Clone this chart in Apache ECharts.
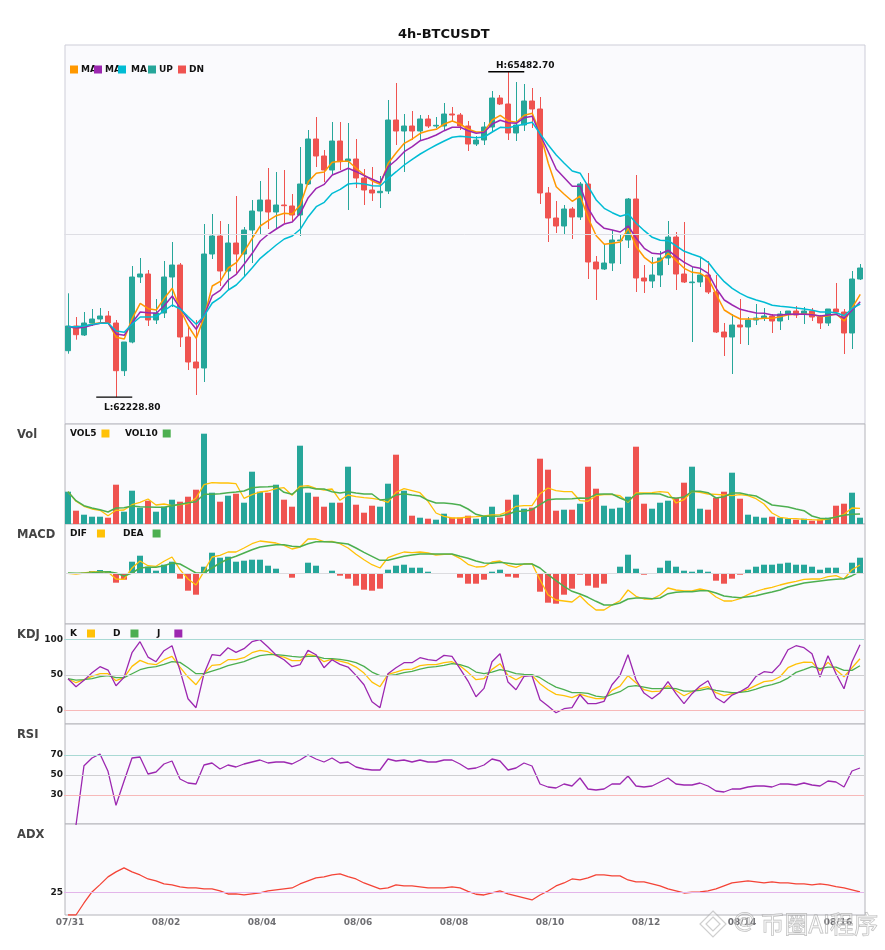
<!DOCTYPE html>
<html><head><meta charset="utf-8">
<style>html,body{margin:0;padding:0;background:#fff}#c{width:885px;height:950px}</style>
<script src="https://cdn.jsdelivr.net/npm/echarts@6/dist/echarts.min.js"></script>
</head><body><div id="c"></div>
<script>
const days=['07/31','08/01','08/02','08/03','08/04','08/05','08/06','08/07','08/08','08/09','08/10','08/11','08/12','08/13','08/14','08/15','08/16'];
const opens=[62693,62940,62850,62970,63010,63040,62970,62493,62780,63430,
63460,63000,63070,63430,63550,62830,62580,62520,63660,63840,
63490,63770,63660,63900,64090,64200,64080,64150,64140,64050,
64360,64810,64640,64500,64790,64590,64610,64420,64300,64273,
64290,65000,64890,64940,64890,65010,64940,64940,65060,65050,
64940,64760,64800,64930,65220,65160,64870,64950,65190,65110,
64270,64020,63940,64110,64030,64360,63580,63510,63570,63793,
63800,64210,63420,63390,63450,63620,63830,63460,63373,63380,
63450,63280,62880,62830,62950,62930,63000,63020,63040,62990,
63060,63090,63060,63090,63030,62970,63110,63080,62870,63410];
const closes=[62940,62853,62970,63010,63040,62970,62493,62780,63430,63460,
63000,63070,63430,63550,62830,62580,62520,63660,63840,63490,
63770,63660,63900,64090,64200,64080,64150,64143,64050,64360,
64810,64640,64500,64790,64583,64610,64420,64300,64270,64287,
65000,64890,64940,64890,65010,64940,64947,65060,65050,64940,
64760,64800,64930,65220,65160,64870,64950,65190,65110,64270,
64020,63940,64110,64030,64360,63580,63510,63570,63800,63800,
64210,63420,63390,63450,63620,63830,63460,63380,63380,63450,
63280,62880,62830,62950,62930,63000,63020,63040,62990,63060,
63090,63050,63090,63030,62970,63110,63080,62870,63410,63520];
const lows=[62663,62803,62840,62940,62970,62950,62228.8,62440,62767,63370,
62940,62960,63020,63130,62730,62500,62250,62380,63610,63340,
63300,63470,63430,63570,63850,63910,63920,63967,63980,63840,
64350,64530,64380,64450,64500,64100,64320,64150,64190,64120,
64260,64750,64480,64800,64790,64920,64920,64900,64980,64900,
64690,64740,64750,64890,65150,64800,64790,64890,64920,64160,
63780,63870,63850,63810,64000,63410,63200,63500,63490,63560,
63720,63280,63270,63320,63330,63550,63300,63370,62780,63330,
63260,62870,62640,62460,62760,62750,62950,62990,62870,62900,
63000,63020,62960,62990,62910,62940,63050,62660,62710,63400];
const highs=[63267,63030,63080,63110,63120,63090,63000,62780,63540,63620,
63500,63210,63590,63780,63570,62930,63000,63960,64060,63990,
63960,64240,63930,64200,64390,64520,64480,64500,64260,64730,
64900,65030,64700,64980,64980,64970,64810,64510,64530,64440,
65200,65370,65060,65090,65050,65050,65030,65170,65130,65070,
64990,64840,64980,65290,65250,65482.7,65380,65360,65320,65230,
64330,64190,64150,64130,64380,64470,63640,63760,63900,63860,
64220,64450,63550,63630,63690,63990,63880,63980,63530,63620,
63590,63450,62970,63060,63210,63030,63160,63120,63060,63090,
63090,63140,63130,63120,63050,63110,63370,63110,63490,63560];
const ma5=[62933,62920,62933,62960,62973,62973,62827,62810,63017,63167,
63113,63100,63217,63317,63107,62940,62817,63033,63340,63387,
63520,63573,63687,63817,63940,63993,64043,64067,64060,64150,
64383,64467,64480,64577,64587,64587,64517,64450,64390,64357,
64567,64673,64767,64810,64867,64893,64907,64960,64990,64960,
64907,64880,64883,65000,65047,64990,64977,65047,65067,64867,
64567,64333,64257,64187,64240,64017,63843,63757,63767,63780,
63917,63733,63627,63567,63590,63667,63593,63517,63477,63467,
63417,63257,63100,63050,63010,63010,63010,63017,63017,63033,
63053,63057,63057,63057,63033,63043,63060,62990,63123,63257];
const ma10=[62933,62920,62927,62950,62967,62967,62860,62847,62973,63080,
63073,63067,63143,63240,63117,63007,62907,63050,63243,63297,
63400,63457,63560,63667,63790,63857,63910,63960,63980,64067,
64223,64317,64357,64450,64483,64517,64483,64443,64407,64373,
64533,64600,64683,64733,64793,64817,64850,64893,64927,64927,
64893,64867,64877,64960,64997,64973,64967,65023,65037,64850,
64683,64507,64423,64337,64337,64117,63983,63917,63900,63880,
63940,63817,63717,63667,63660,63697,63633,63577,63533,63517,
63467,63317,63200,63150,63107,63087,63070,63067,63050,63050,
63057,63060,63057,63053,63040,63050,63057,63017,63100,63183];
const ma20=[62933,62933,62940,62957,62967,62967,62890,62877,62963,63030,
63030,63033,63093,63150,63110,63033,62957,63043,63170,63223,
63300,63350,63433,63523,63617,63683,63750,63810,63840,63907,
64033,64133,64177,64267,64307,64360,64367,64360,64343,64340,
64417,64483,64550,64607,64660,64707,64750,64790,64827,64837,
64830,64823,64830,64880,64927,64923,64940,64960,64977,64860,
64750,64650,64567,64490,64467,64333,64200,64117,64073,64037,
64060,63967,63893,63827,63797,63793,63740,63687,63657,63630,
63577,63473,63383,63317,63267,63227,63200,63177,63147,63137,
63130,63120,63110,63097,63080,63080,63073,63043,63117,63160];
const volume=[32.3,13.3,9.3,7.3,7.3,6.3,39.3,12.3,33.3,16.3,
23.3,12.3,17.3,24.3,22.3,27.3,34.3,90.3,31.3,22.3,
28.3,30.3,21.3,52.3,32.3,31.3,39.3,24.3,17.3,78.3,
31.3,27.3,17.3,21.3,21.3,57.3,19.3,11.3,18.3,17.3,
40.3,69.3,33.3,8.3,6.3,5.3,4.3,10.3,6.3,6.3,
8.3,5.3,7.3,17.3,6.3,24.3,29.3,15.3,16.3,65.3,
54.3,13.3,14.3,14.3,20.3,57.3,35.3,18.3,15.3,16.3,
27.3,77.3,20.3,15.3,21.3,23.3,26.3,41.3,57.3,15.3,
14.3,26.3,32.3,51.3,25.3,9.3,7.3,6.3,7.3,6.3,
5.3,4.3,5.3,3.3,4.3,6.3,18.3,20.3,31.3,6.3];
const vol5=[32.3,22.7,17.7,15,13.7,8.3,13.7,14,19.3,21.7,
25,19,20,18.3,19.3,20.3,26,39.3,41.3,41,
41,40.3,25.7,29.3,32,33,35.3,36.3,28.7,37.7,
38.3,35.7,34,35,23.7,29,27.3,26.3,25.7,24.3,
21.7,31.7,35.3,33.3,31.3,22.7,11,7.7,6,6,
7,7.3,8,9,9.3,12.3,17.7,18.3,18.3,30.3,
36,33.3,32.3,32.3,23.3,22.7,28.3,29.3,29.3,28.3,
21.7,31,31,31.3,32.3,31.7,21,24.3,32.7,31.7,
30,29.7,29,28.3,29.3,28.3,25.3,20,11,6.7,
5.7,5.3,4.7,4.3,4,5,7,9.7,16,15.7];
const vol10=[32.3,23.3,18.3,16,14.3,12,16,16.3,18,17.3,
17,16.7,16.7,18.3,19.7,21.3,22.3,29.7,29.7,30.3,
31.3,32,33,36.3,37,37.3,37.7,31.7,29.7,36,
36.7,35,35,32.3,31,32.3,31,30,30,24,
24.7,29,30.3,29,28,23.7,21,21,20.3,19,
15,9.7,7.7,7.7,8,9.7,12.7,12.7,14.3,19.3,
24.3,25,25,25.3,26,25.7,29.7,30,30,26,
22.7,29.7,30.3,30.3,30,27,25.7,27,32.7,32.7,
31.3,26,27.3,31,31,29.3,28,23.7,19,18,
17,15,13.3,8,5.7,5.3,7,8.7,9.7,10];
const macdHist=[0,0,0.3,2,3,2,-9.7,-6.7,11.3,17.3,
6.3,2.3,8.3,11.3,-5.7,-17.7,-21.7,6.3,20.3,15.3,
16.3,11.3,12.3,13.3,13.3,7.3,4.3,0,-4.7,-1,
10.3,7.3,0,2.3,-2.7,-5.7,-12.7,-16.7,-17.7,-15.7,
3.3,7.3,8.3,5.3,5.3,1.3,-0.7,-0.7,-0.7,-4.7,
-10.7,-10.7,-6.7,1.3,3.3,-3.7,-4.7,0,0,-18.7,
-29.7,-30.7,-21.7,-15.7,-1.7,-12.7,-14.7,-10.7,-0.3,6.3,
18.3,4.3,-1.7,-0.7,5.3,12.3,6.3,2.3,1.3,3.3,
1.3,-7.7,-10.7,-5.7,-1.7,3.3,6.3,8.3,8.3,9.3,
10.3,8.3,8.3,6.3,3.3,5.3,5.3,0,10.3,15.3];
const dif=[-0.3,-1,0,1,1.3,1,-6,-6.3,5,12,
7.3,6.7,11.7,16,3.3,-6,-12,1.7,16,17.7,
21,21,25,29.3,32,31,30,27.7,24,26,
34,34,31.3,31.7,29.3,25,18.7,13.3,8.3,5,
15.3,18.3,21,20.3,21,20,18,18.7,18.7,14.7,
8.7,6,6.3,11,12,7.7,5.7,9,9.3,-6.7,
-21.7,-27,-28,-29,-22.7,-30.7,-37,-37,-32,-27.7,
-17,-23.3,-26,-26,-22,-15,-17,-18,-18,-16,
-17.7,-24,-28,-28,-25.7,-21.7,-18.3,-16,-14.3,-12,
-10,-8.3,-6.3,-6,-6,-3.7,-2.7,-6,3.3,8];
const dea=[0,-0.3,-0.3,0.3,1,1.3,0,-3,0,5,
5.7,5.7,7.3,10,9,4.7,0,0,5,10,
14,16.7,20,23.3,26,27.3,28.3,28.3,26.7,26.3,
29.3,31.3,31.3,31,30,29,25,20.7,16.7,12.7,
12.7,14.7,16.7,18,19,19,19,19,19,16.7,
14.7,12,10,9.7,10.7,9.7,8.7,9,9,5,
-1.7,-7.7,-13.3,-18.3,-21,-24.3,-28.3,-32,-32,-30,
-26,-25,-25,-25.7,-25,-20.7,-19.3,-18.7,-18.7,-17.7,
-17.7,-20,-23,-24,-24.7,-23.7,-22.7,-20.7,-19,-17,
-14,-12,-10,-9,-8,-7,-6.3,-5.7,-2.7,1.3];
const kdjK=[44.8,39.2,43.4,48.1,51.8,51.8,42,46.2,62.1,70.5,
65.8,64.4,71.4,76.1,61.1,47.1,36.4,51.8,63.5,64.4,
71.4,71.4,74.2,81.2,84.5,82.6,77,75.1,70,70,
78.9,76.5,68.6,72.3,69.5,66.7,61.1,52.7,40.1,33.6,
50.9,54.1,57.4,58.3,63,64.4,64.4,67.2,68.6,63,
53.7,43.4,44.8,57.9,65.8,49.5,43.4,49.5,49.5,37.8,
29.4,22.9,21,18.2,23.3,19.6,16.8,16.8,28.5,34.5,
49,39.2,29.4,26.6,27.5,35,28,21,26.6,30.8,
33.6,25.2,21,23.8,26.1,29.9,35.5,40.6,42,47.6,
60.2,65.3,68.1,67.7,56,67.7,57.4,47.6,60.2,72.8];
const kdjD=[44.8,42.9,43.4,44.8,47.6,49,46.2,46.2,51.8,57.4,
60.2,61.6,64.9,68.6,67.7,60.2,51.8,51.8,55.5,58.8,
63,65.8,68.6,73.3,77,78.4,78.4,77.5,76.1,75.1,
76.1,76.1,73.3,72.8,71.9,70,67.2,62.1,54.1,49,
49,50.4,53.2,55.1,58.3,60.7,61.6,63.5,65.8,64.4,
61.1,54.1,51.8,54.1,57.4,55.5,51.8,50.9,50.4,46.2,
39.2,33.1,29.4,25.2,25.2,24.3,20.5,19.1,22.9,26.6,
33.6,35,33.1,30.8,30.8,31.7,30.8,27.5,27.5,28.5,
30.8,28.5,26.6,25.2,25.7,27.1,30.3,34.1,36.4,40.1,
45.7,53.7,57.4,61.6,58.8,61.1,61.1,56.5,56.5,63];
const kdjJ=[44.8,33.6,42.5,53.2,61.6,56.9,35,46.7,81.2,96.6,
75.1,68.6,84,91,56.5,16.8,4.2,51.8,78.4,77,
88.2,81.7,86.8,96.6,99.4,89.1,77.9,71.4,61.6,64.4,
84.5,78.4,60.2,71.4,64.9,61.1,49.5,36.4,12.6,4.2,
51.8,60.2,67.2,67.2,74.2,71.4,70,77.5,76.1,58.8,
41.5,19.6,31.3,68.6,79.8,40.1,29.4,48.1,49,15.4,
6.5,-2.8,2.8,4.2,22.4,9.8,9.8,13.1,36.4,49.5,
78.4,43.4,24.7,16.8,25.2,40.6,23.8,9.8,23.8,34.5,
42,18.2,11.2,21.9,26.6,33.1,48.1,54.6,53.2,64.9,
85.4,91,88.2,79.8,47.1,77,51.8,30.8,68.6,92.4];
const rsi=['-',0,59.3,67,71,53.7,19.7,43.7,67,68,
51,53,61,64,46,42,41,60,62,56,
60,58,61,63,65,62,63,63,61,65,
70,66,63,67,62,63,58,56,55,55,
66,64,65,63,65,63,63,65,65,61,
56,57,60,66,64,55,57,62,59,41,
38,37,41,39,47,36,35,36,41,41,
49,39,38,39,43,47,41,40,40,42,
39,34,33,36,36,38,39,39,38,41,
41,40,42,40,39,44,43,38,54,57];
const adx=[0,0,13.2,25.3,33.4,41.9,47.4,51.8,47.4,44,
39.6,37.4,34.1,33,30.8,29.7,29.7,28.6,28.6,26.4,
23.1,23.1,22,23.1,24.2,26.4,27.5,28.6,29.7,34.1,
37.4,40.7,41.9,44,45.2,42.2,39.6,35.2,31.9,28.6,
29.7,33,31.9,31.9,30.8,29.7,29.7,29.7,30.8,29.7,
26,22.8,22,24.2,26.4,23.1,20.9,18.7,16.5,22,
26.4,31.9,35.2,39.6,38.5,40.7,44,44,43,43,
38.5,36.3,36.3,34.1,31.9,28.6,26.4,24.2,25,25.3,
26.4,28.6,31.9,35.2,36.3,37.4,36.3,35.2,36.3,35.2,
35.2,34.1,34.1,33,34.1,33,31.2,29.7,27.5,25.3];
const priceMid=63855, kdjLevels=[100,50,0], rsiLevels=[70,50,30], adxLevels=[25], macdZero=0;

const FONT='"DejaVu Sans"';
const UP='#26a69a',DN='#ef5350',C_MA5='#ff9800',C_MA10='#9c27b0',C_MA20='#00bcd4',YEL='#ffc107',GRN='#4caf50';
const categories=[];days.forEach(d=>{for(let h=0;h<6;h++)categories.push(d)});categories.length=opens.length;
const upData=opens.map((o,i)=>closes[i]>=o?[o,closes[i],lows[i],highs[i]]:['-','-','-','-']);
const dnData=opens.map((o,i)=>closes[i]<o?[o,closes[i],lows[i],highs[i]]:['-','-','-','-']);

const frameTops=[45,424,524,624,724,824],heights=[379,100,100,100,100,91];
const dataTops=[45,424,524,625,725,824];
const grid=dataTops.map((t,i)=>({left:i==0?64.25:64,right:i==0?20.75:21,top:t,height:heights[i],show:false}))
 .concat(frameTops.map((t,i)=>({left:65,right:20,top:t,height:heights[i],show:true,z:0,backgroundColor:'#fafafd',borderColor:i==0?'#cdcdd8':'#b4b4ba',borderWidth:1})));
const xAxis=dataTops.map((t,i)=>({type:'category',gridIndex:i,data:categories,show:i==5,boundaryGap:true,
  axisLine:{show:false},axisTick:{show:false},splitLine:{show:false},
  axisLabel:{show:i==5,interval:11,margin:3,padding:[0,0,0,4],fontSize:9,fontWeight:'bold',color:'#6e6e72',fontFamily:FONT}}))
 .concat(frameTops.map((t,i)=>({type:'category',gridIndex:i+6,data:[],show:false})));
function yA(i,min,max,labels){const o={type:'value',gridIndex:i,min,max,show:!!labels,axisLine:{show:false},axisTick:{show:false},splitLine:{show:false}};
  if(labels)o.axisLabel={customValues:labels,margin:1,fontSize:9,fontWeight:'bold',color:'#1a1a1a',fontFamily:FONT};return o;}
const yAxis=[yA(0,61960,65750),yA(1,0,100),yA(2,-51,49),yA(3,-20,120,kdjLevels),yA(4,0,100,rsiLevels),yA(5,0,100,adxLevels)]
 .concat(frameTops.map((t,i)=>({type:'value',gridIndex:i+6,show:false})));
function ml(items){return {silent:true,symbol:'none',animation:false,label:{show:false},data:items.map(([v,c])=>({yAxis:v,lineStyle:{color:c,width:1,type:'solid'}}))};}
function line(name,data,color,g,w,extra){return Object.assign({type:'line',name,data,xAxisIndex:g,yAxisIndex:g,showSymbol:false,symbol:'none',smooth:false,
  lineStyle:{color,width:w||1.3},itemStyle:{color},emphasis:{disabled:true}},extra||{});}
const markStyle=(v,off)=>({show:true,formatter:v,position:'top',offset:off,fontSize:9,fontWeight:'bold',color:'#111',fontFamily:FONT});
const series=[
 {type:'candlestick',name:'UP',data:upData,xAxisIndex:0,yAxisIndex:0,barWidth:5.5,itemStyle:{color:UP,color0:UP,borderColor:UP,borderColor0:UP,borderWidth:1},
  markLine:ml([[priceMid,'#dedee4']])},
 {type:'candlestick',name:'DN',data:dnData,xAxisIndex:0,yAxisIndex:0,barWidth:5.5,itemStyle:{color:DN,color0:DN,borderColor:DN,borderColor0:DN,borderWidth:1},
  markPoint:{symbol:'rect',symbolSize:[36,1.4],symbolOffset:[-2,0],itemStyle:{color:'#000'},silent:true,animation:false,data:[
   {coord:[55,65482.7],label:markStyle('H:65482.70',[19,4])},
   {coord:[6,62228.8],label:markStyle('L:62228.80',[18,21])}]}},
 line('MA5',ma5,C_MA5,0,1.5),line('MA10',ma10,C_MA10,0,1.5),line('MA20',ma20,C_MA20,0,1.5),
 {type:'bar',name:'Volume',xAxisIndex:1,yAxisIndex:1,barWidth:6,data:volume.map((v,i)=>({value:v,itemStyle:{color:closes[i]>=opens[i]?UP:DN}}))},
 line('VOL5',vol5,YEL,1),line('VOL10',vol10,GRN,1,1.5),
 {type:'bar',name:'MACD',xAxisIndex:2,yAxisIndex:2,barWidth:6,data:macdHist.map(v=>({value:v,itemStyle:{color:v>=0?UP:DN}})),markLine:ml([[macdZero,'#dcdce0']])},
 line('DIF',dif,YEL,2),line('DEA',dea,GRN,2,1.5),
 line('K',kdjK,YEL,3,1.3,{markLine:ml([[kdjLevels[0],'#a9d9d4'],[kdjLevels[1],'#cfcfd2'],[kdjLevels[2],'#f7b9b9']])}),
 line('D',kdjD,GRN,3),line('J',kdjJ,C_MA10,3),
 line('RSI',rsi,C_MA10,4,1.3,{markLine:ml([[rsiLevels[0],'#a9d9d4'],[rsiLevels[1],'#cfcfd2'],[rsiLevels[2],'#f7b9b9']])}),
 line('ADX',adx,'#f44336',5,1.3,{markLine:ml([[adxLevels[0],'#e3b5ea']])})
];
function lg(name,left,top,align,pad,fmt){return {show:true,data:[name],left,top,orient:'horizontal',align,padding:0,itemWidth:8,itemHeight:8,icon:'rect',selectedMode:false,
  lineStyle:{width:0},itemStyle:{borderWidth:0},
  formatter:fmt||'{name}',textStyle:{fontSize:9,fontWeight:'bold',color:'#111',fontFamily:FONT,padding:pad}};}
const MA=()=>'MA';
const legend=[
 lg('MA5',70,65,'left',[0,0,0,-2],MA),lg('MA10',94,65,'left',[0,0,0,-2],MA),lg('MA20',118,65,'left',[0,0,0,0],MA),
 lg('UP',148,65,'left',[0,0,0,-2]),lg('DN',178,65,'left',[0,0,0,-2]),
 lg('VOL5',70,429,'right',[0,0,0,0]),lg('VOL10',125,429,'right',[0,0,0,0]),
 lg('DIF',70,529,'right',[0,5,0,0]),lg('DEA',123,529,'right',[0,4,0,0]),
 lg('K',70,629,'right',[0,5,0,0]),lg('D',113,629,'right',[0,5,0,0]),lg('J',157,629,'right',[0,9,0,0])
];
const panelTitle=(text,top)=>({text,left:17,top,padding:0,textStyle:{fontSize:11.5,fontWeight:'bold',color:'#444',fontFamily:FONT}});
const title=[{text:'4h-BTCUSDT',left:398,top:28,padding:0,textStyle:{fontSize:13,fontWeight:'bold',color:'#111',fontFamily:FONT}},
 panelTitle('Vol',429.5),panelTitle('MACD',529.5),panelTitle('KDJ',629.5),panelTitle('RSI',729.5),panelTitle('ADX',829.5)];
const wmStyle={fill:'rgba(255,255,255,0.4)',stroke:'rgba(130,130,130,0.55)',lineWidth:0.9};
const graphic=[
 {type:'text',left:760,top:911,z:100,silent:true,style:Object.assign({text:'币圈AI程序',font:'24px "Noto Sans CJK SC"'},wmStyle)},
 {type:'text',left:733,top:911,z:100,silent:true,style:Object.assign({text:'@',font:'22px "DejaVu Sans"'},wmStyle)},
 {type:'polygon',z:100,silent:true,shape:{points:[[713,911],[726,924],[713,937],[700,924]]},style:{fill:'rgba(255,255,255,0.4)',stroke:'rgba(160,160,160,0.5)',lineWidth:1.2}},
 {type:'polygon',z:100,silent:true,shape:{points:[[713,917],[720,924],[713,931],[706,924]]},style:{fill:'rgba(255,255,255,0.4)',stroke:'rgba(160,160,160,0.5)',lineWidth:1.2}}
];
const chart=echarts.init(document.getElementById('c'),null,{renderer:'canvas'});
chart.setOption({animation:false,backgroundColor:'#fff',textStyle:{fontFamily:FONT},title,legend,grid,xAxis,yAxis,series,graphic,tooltip:{show:false}});
</script></body></html>
